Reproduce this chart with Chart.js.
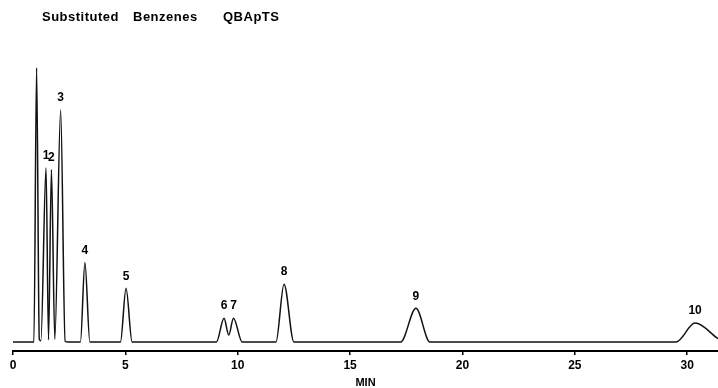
<!DOCTYPE html>
<html>
<head>
<meta charset="utf-8">
<title>Substituted Benzenes QBApTS</title>
<script src="https://cdn.jsdelivr.net/npm/chart.js@4.4.1/dist/chart.umd.min.js"></script>
<style>
  html, body { margin: 0; padding: 0; background: #fff; }
  #chromatogram { display: block; }
</style>
</head>
<body>
<canvas id="chromatogram" width="718" height="388"></canvas>
<script>
// numbered peaks: retention time (min) and apex height (relative response)
var peakNames = ["1", "2", "3", "4", "5", "6", "7", "8", "9", "10"];
var peakTimes = [1.47, 1.71, 2.12, 3.20, 5.03, 9.39, 9.81, 12.06, 17.93, 30.35];
var peakHeights = [63.4, 62.8, 84.6, 29.0, 19.6, 8.7, 8.7, 21.1, 12.3, 6.9];

// unretained solvent spike
var solventTime = [1.05];
var solventHeight = [100];

// baseline, peak feet and valleys between peaks
var footTimes = [0, 0.93, 1.17, 1.24, 1.58, 1.86, 2.32, 2.45, 3.00, 3.42, 4.78, 5.30,
                 9.05, 9.60, 10.20, 11.70, 12.50, 17.25, 18.55, 29.50, 31.37];
var footSignal = [0, 0, 1.0, 0.5, 0.8, 1.0, 0.3, 0, 0, 0, 0, 0,
                  0, 2.6, 0, 0, 0, 0, 0, 0, 1.2];

var xTicks = [0, 5, 10, 15, 20, 25, 30];

var headWords = ["Substituted", "Benzenes", "QBApTS"];

var fontFamily = "'Liberation Sans', Arial, Helvetica, sans-serif";

// merge everything into one trace ordered by time
var trace = [];
footTimes.forEach(function (t, i) { trace.push({ x: t, y: footSignal[i] }); });
solventTime.forEach(function (t, i) { trace.push({ x: t, y: solventHeight[i] }); });
peakTimes.forEach(function (t, i) { trace.push({ x: t, y: peakHeights[i] }); });
trace.sort(function (a, b) { return a.x - b.x; });

// peak numbers above each apex
var peakLabels = {
  id: "peakLabels",
  afterDatasetsDraw: function (chart) {
    var ctx = chart.ctx, xs = chart.scales.x, ys = chart.scales.y;
    ctx.save();
    ctx.font = "bold 12px " + fontFamily;
    ctx.fillStyle = "#000";
    ctx.textAlign = "center";
    ctx.textBaseline = "middle";
    for (var i = 0; i < peakNames.length; i++) {
      ctx.fillText(peakNames[i], xs.getPixelForValue(peakTimes[i]), ys.getPixelForValue(peakHeights[i]) - 12);
    }
    ctx.restore();
  }
};

// header line at the top left
var header = {
  id: "header",
  afterDraw: function (chart) {
    var ctx = chart.ctx;
    var starts = [42, 133, 223];
    ctx.save();
    ctx.font = "bold 13px " + fontFamily;
    ctx.letterSpacing = "0.5px";
    ctx.fillStyle = "#000";
    ctx.textBaseline = "middle";
    headWords.forEach(function (w, i) { ctx.fillText(w, starts[i], 17); });
    ctx.restore();
  }
};

new Chart(document.getElementById("chromatogram"), {
  type: "line",
  data: {
    datasets: [{
      data: trace,
      borderColor: "#111",
      borderWidth: 1.5,
      pointRadius: 0,
      fill: false,
      cubicInterpolationMode: "monotone"
    }]
  },
  options: {
    responsive: false,
    animation: false,
    devicePixelRatio: 1,
    layout: {
      padding: { top: 60, left: 13, right: 0, bottom: 0 }
    },
    plugins: {
      legend: { display: false },
      tooltip: { enabled: false }
    },
    scales: {
      x: {
        type: "linear",
        min: 0,
        max: 31.37,
        afterBuildTicks: function (scale) {
          scale.ticks = xTicks.map(function (v) { return { value: v }; });
        },
        border: { display: true, color: "#000", width: 2 },
        grid: { drawOnChartArea: false, drawTicks: true, tickLength: 4, color: "#000", lineWidth: 1.5 },
        ticks: {
          color: "#000",
          padding: 5,
          maxRotation: 0,
          font: { family: fontFamily, size: 12, weight: "bold", lineHeight: 1 }
        },
        title: {
          display: true,
          text: "MIN",
          color: "#000",
          padding: { top: 0, bottom: 0 },
          font: { family: fontFamily, size: 11, weight: "bold", lineHeight: 1 }
        }
      },
      y: {
        display: false,
        min: -3.27,
        max: 102.8
      }
    }
  },
  plugins: [peakLabels, header]
});
</script>
</body>
</html>
